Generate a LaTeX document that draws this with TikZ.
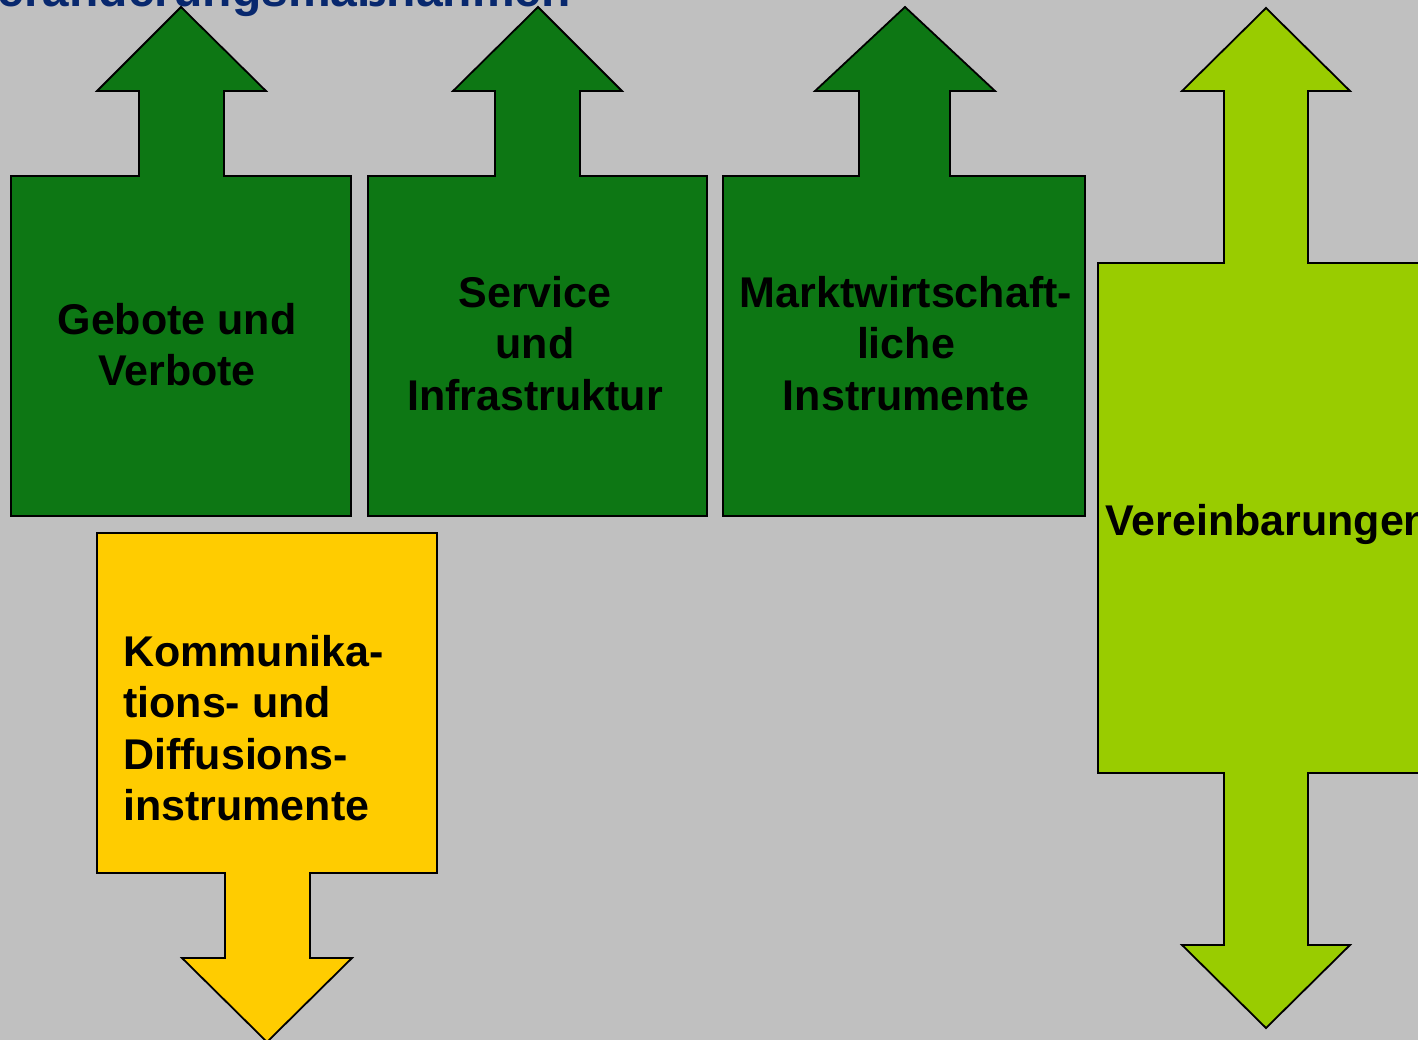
\documentclass[tikz,border=0pt]{standalone}
\usepackage{fontspec}
\setmainfont{Liberation Sans}
\definecolor{bg}{RGB}{192,192,192}
\definecolor{dkgreen}{RGB}{13,119,20}
\definecolor{ylw}{RGB}{255,204,0}
\definecolor{ltgreen}{RGB}{153,204,0}
\definecolor{navy}{RGB}{8,40,110}
\begin{document}
\begin{tikzpicture}[x=1pt,y=-1pt,
  shp/.style={draw=black,line width=1.8pt,line join=miter},
  lbl/.style={font=\fontsize{43}{51.5}\selectfont\bfseries,inner sep=0pt,align=center,text=black}]
\useasboundingbox (0,0) rectangle (1418,1040);
\clip (0,0) rectangle (1418,1040);
\fill[bg] (0,0) rectangle (1418,1040);
\node[anchor=base east,font=\fontsize{48}{56}\selectfont\bfseries,text=navy,inner sep=0pt] (title) at (571,7) {Veränderungsmaßnahmen};
% box 1
\draw[shp,fill=dkgreen] (11,516) -- (11,176) -- (139,176) -- (139,91) -- (97,91) -- (181,7) -- (266,91) -- (224,91) -- (224,176) -- (351,176) -- (351,516) -- cycle;
% box 2
\draw[shp,fill=dkgreen] (368,516) -- (368,176) -- (495,176) -- (495,91) -- (453,91) -- (538,7) -- (622,91) -- (580,91) -- (580,176) -- (707,176) -- (707,516) -- cycle;
% box 3
\draw[shp,fill=dkgreen] (723,516) -- (723,176) -- (859,176) -- (859,91) -- (815,91) -- (905,7) -- (995,91) -- (950,91) -- (950,176) -- (1085,176) -- (1085,516) -- cycle;
% yellow
\draw[shp,fill=ylw] (97,533) -- (437,533) -- (437,873) -- (310,873) -- (310,958) -- (352,958) -- (267,1042) -- (182,958) -- (225,958) -- (225,873) -- (97,873) -- cycle;
% light green double arrow
\draw[shp,fill=ltgreen] (1098,773) -- (1098,263) -- (1224,263) -- (1224,91) -- (1182,91) -- (1266,8) -- (1350,91) -- (1308,91) -- (1308,263) -- (1430,263) -- (1430,773) -- (1308,773) -- (1308,945) -- (1350,945) -- (1266,1028) -- (1182,945) -- (1224,945) -- (1224,773) -- cycle;
% labels
\node[lbl,anchor=north] (t1) at (177,303) {Gebote und\\Verbote};
\node[lbl,anchor=north] (t2) at (535,276) {Service\\und\\Infrastruktur};
\node[lbl,anchor=north] (t3) at (906,276) {Marktwirtschaft-\\liche\\Instrumente};
\node[lbl,align=left,anchor=north west] (t4) at (123,635) {Kommunika-\\tions- und\\Diffusions-\\instrumente};
\node[lbl,anchor=base west] (t5) at (1105,535) {Vereinbarungen};
\end{tikzpicture}
\end{document}
